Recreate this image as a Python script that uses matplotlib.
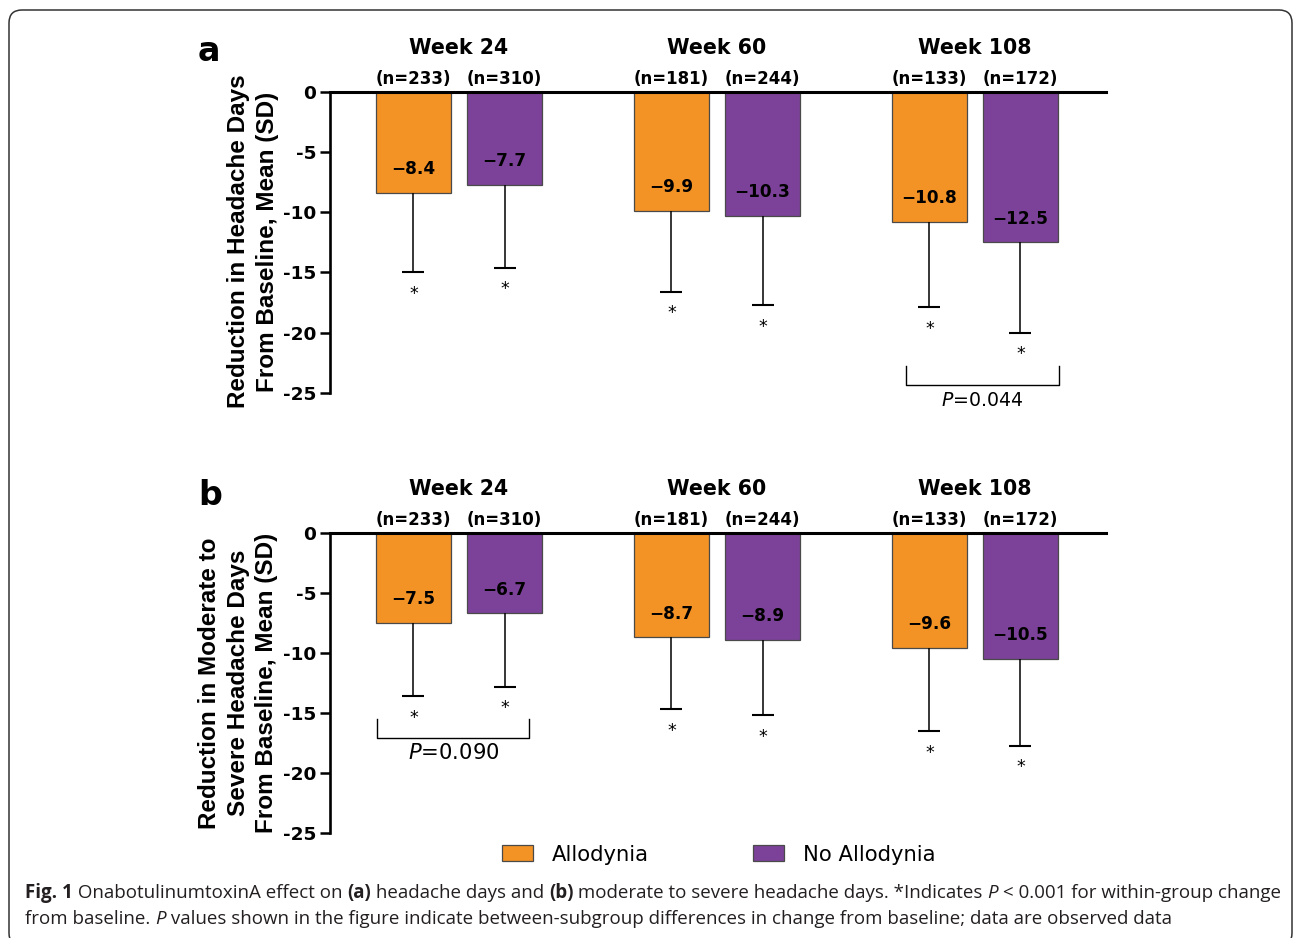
import matplotlib
matplotlib.use("Agg")
import matplotlib.pyplot as plt
import numpy as np
from matplotlib.patches import FancyBboxPatch, Patch

W, H = 1295, 938
plt.rcParams['axes.unicode_minus'] = False

weeks = ["Week 24", "Week 60", "Week 108"]
groups = ["Allodynia", "No Allodynia"]
colors = ["#F39325", "#7C4198"]

n_allo = [233, 181, 133]
n_noallo = [310, 244, 172]

# panel a: headache days
a_allo = [-8.4, -9.9, -10.8]
a_allo_sd = [6.6, 6.7, 7.1]
a_noallo = [-7.7, -10.3, -12.5]
a_noallo_sd = [6.9, 7.4, 7.5]

# panel b: moderate to severe headache days
b_allo = [-7.5, -8.7, -9.6]
b_allo_sd = [6.1, 6.0, 6.9]
b_noallo = [-6.7, -8.9, -10.5]
b_noallo_sd = [6.1, 6.3, 7.2]

# between-subgroup comparisons: (week index, p value text)
a_pval = (2, "0.044")
b_pval = (0, "0.090")

ylabel_a = "Reduction in Headache Days\nFrom Baseline, Mean (SD)"
ylabel_b = "Reduction in Moderate to\nSevere Headache Days\nFrom Baseline, Mean (SD)"

caption1 = [("Fig. 1", "bold", "normal"), (" OnabotulinumtoxinA effect on ", "normal", "normal"),
            ("(a)", "bold", "normal"), (" headache days and ", "normal", "normal"),
            ("(b)", "bold", "normal"),
            (" moderate to severe headache days. *Indicates ", "normal", "normal"),
            ("P", "normal", "italic"), (" < 0.001 for within-group change", "normal", "normal")]
caption2 = [("from baseline. ", "normal", "normal"), ("P", "normal", "italic"),
            (" values shown in the figure indicate between-subgroup differences in change "
             "from baseline; data are observed data", "normal", "normal")]

fig = plt.figure(figsize=(W / 100, H / 100), dpi=100)

# rounded frame round the whole figure
frame = FancyBboxPatch((9, -8), 1283, 936, boxstyle="round,pad=0,rounding_size=13",
                       transform=None, fill=False, edgecolor="#333333", linewidth=1.1)
fig.patches.append(frame)

BOLD = "DejaVu Sans"
width = 0.29
off = 0.1765


def draw_panel(rect, letter, ylab, ylab_xy, allo, allo_sd, noallo, noallo_sd, pval,
               bracket_y, bracket_x, psize):
    ax = fig.add_axes(rect)
    x = np.arange(len(weeks))
    for k, (vals, sds) in enumerate([(allo, allo_sd), (noallo, noallo_sd)]):
        xs = x + (k * 2 - 1) * off
        vals = np.array(vals)
        ax.bar(xs, vals, width, color=colors[k], edgecolor="#4a4a4a", linewidth=0.9, zorder=2)
        eb = ax.errorbar(xs, vals, yerr=[sds, np.zeros(len(sds))], fmt="none", ecolor="black",
                         elinewidth=1.1, capsize=8, capthick=1.5, zorder=3)
        for cl in eb[1]:
            if np.allclose(cl.get_ydata(), vals):
                cl.set_visible(False)
        for xi, v, s in zip(xs, vals, sds):
            ax.text(xi, v + 1.55, "\u2212%.1f" % abs(v), ha="center", va="baseline",
                    fontsize=12.2, fontweight="bold", family=BOLD, zorder=4)
            ax.text(xi, v - s - 2.2, "*", ha="center", va="baseline", fontsize=12.5,
                    family=BOLD)
        ns = n_allo if k == 0 else n_noallo
        for xi, n in zip(xs, ns):
            ax.text(xi, 0.65, "(n=%d)" % n, ha="center", va="baseline", fontsize=12,
                    fontweight="bold", family=BOLD)
    for xi, wk in zip(x, weeks):
        ax.text(xi, 3.1, wk, ha="center", va="baseline", fontsize=14.8, fontweight="bold",
                family=BOLD)

    gi, ptxt = pval
    bx0, bx1 = gi + bracket_x[0], gi + bracket_x[1]
    ax.plot([bx0, bx0, bx1, bx1], [bracket_y[0], bracket_y[1], bracket_y[1], bracket_y[0]],
            color="black", lw=1.0, clip_on=False)
    ax.text((bx0 + bx1) / 2, bracket_y[2], r"$\it{P}$=" + ptxt, ha="center", va="baseline",
            fontsize=psize, family=BOLD)

    ax.set_xlim(-0.5, 2.508)
    ax.set_ylim(-25, 0)
    ax.set_yticks(np.arange(-25, 1, 5))
    ax.set_yticklabels([str(t) for t in np.arange(-25, 1, 5)], fontweight="bold", family=BOLD)
    ax.set_xticks([])
    ax.tick_params(axis="y", length=7, width=1.8, pad=3, labelsize=13.3)
    ax.spines["right"].set_visible(False)
    ax.spines["bottom"].set_visible(False)
    ax.spines["left"].set_linewidth(1.9)
    ax.spines["top"].set_linewidth(2.2)
    ax.patch.set_alpha(0)

    fig.text(letter[1] / W, 1 - letter[2] / H, letter[0], ha="center", va="baseline",
             fontsize=24, fontweight="bold", family=BOLD)
    fig.text(ylab_xy[0] / W, 1 - ylab_xy[1] / H, ylab, rotation=90, ha="center", va="center",
             multialignment="center", fontsize=17.5, fontweight="bold",
             family="Liberation Sans", linespacing=1.3)
    return ax


draw_panel([330 / W, 1 - 393 / H, 776 / W, 301.3 / H], ("a", 209, 61), ylabel_a, (253, 241.5),
           a_allo, a_allo_sd, a_noallo, a_noallo_sd, a_pval, (-22.8, -24.3, -26.1),
           (-0.268, 0.326), 13.6)
draw_panel([330 / W, 1 - 833.3 / H, 776 / W, 300.6 / H], ("b", 210, 505), ylabel_b,
           (238, 683), b_allo, b_allo_sd, b_noallo, b_noallo_sd, b_pval,
           (-15.5, -17.05, -18.8), (-0.317, 0.273), 15.2)

handles = [Patch(facecolor=c, edgecolor="#4a4a4a", linewidth=0.9) for c in colors]
fig.legend(handles, groups, loc="center left", bbox_to_anchor=(501.7 / W, 1 - 854.5 / H),
           ncol=2, frameon=False, prop={"family": BOLD, "size": 15.2}, handlelength=1.49,
           handleheight=0.77, handletextpad=0.9, columnspacing=4.9, borderpad=0,
           borderaxespad=0)

# caption, drawn piece by piece so bold and italic parts sit inline
renderer = fig.canvas.get_renderer()


def seg_width(s, weight, style, size):
    t1 = fig.text(0, 0, "|" + s + "|", family="Open Sans", weight=weight, style=style,
                  fontsize=size)
    t2 = fig.text(0, 0, "||", family="Open Sans", weight=weight, style=style, fontsize=size)
    w = t1.get_window_extent(renderer).width - t2.get_window_extent(renderer).width
    t1.remove()
    t2.remove()
    return w


cap_size = 13.0
total = sum(seg_width(s, w, st, cap_size) for s, w, st in caption1)
cap_size = cap_size * 1252.6 / total


def rich_line(parts, x0, y0, size):
    cx = x0
    for s, weight, style in parts:
        fig.text(cx / W, 1 - y0 / H, s, family="Open Sans", weight=weight, style=style,
                 fontsize=size, color="#231f20", ha="left", va="baseline")
        cx += seg_width(s, weight, style, size)


rich_line(caption1, 25, 898, cap_size)
rich_line(caption2, 25, 924, cap_size)

fig.savefig("out.png", dpi=100)
